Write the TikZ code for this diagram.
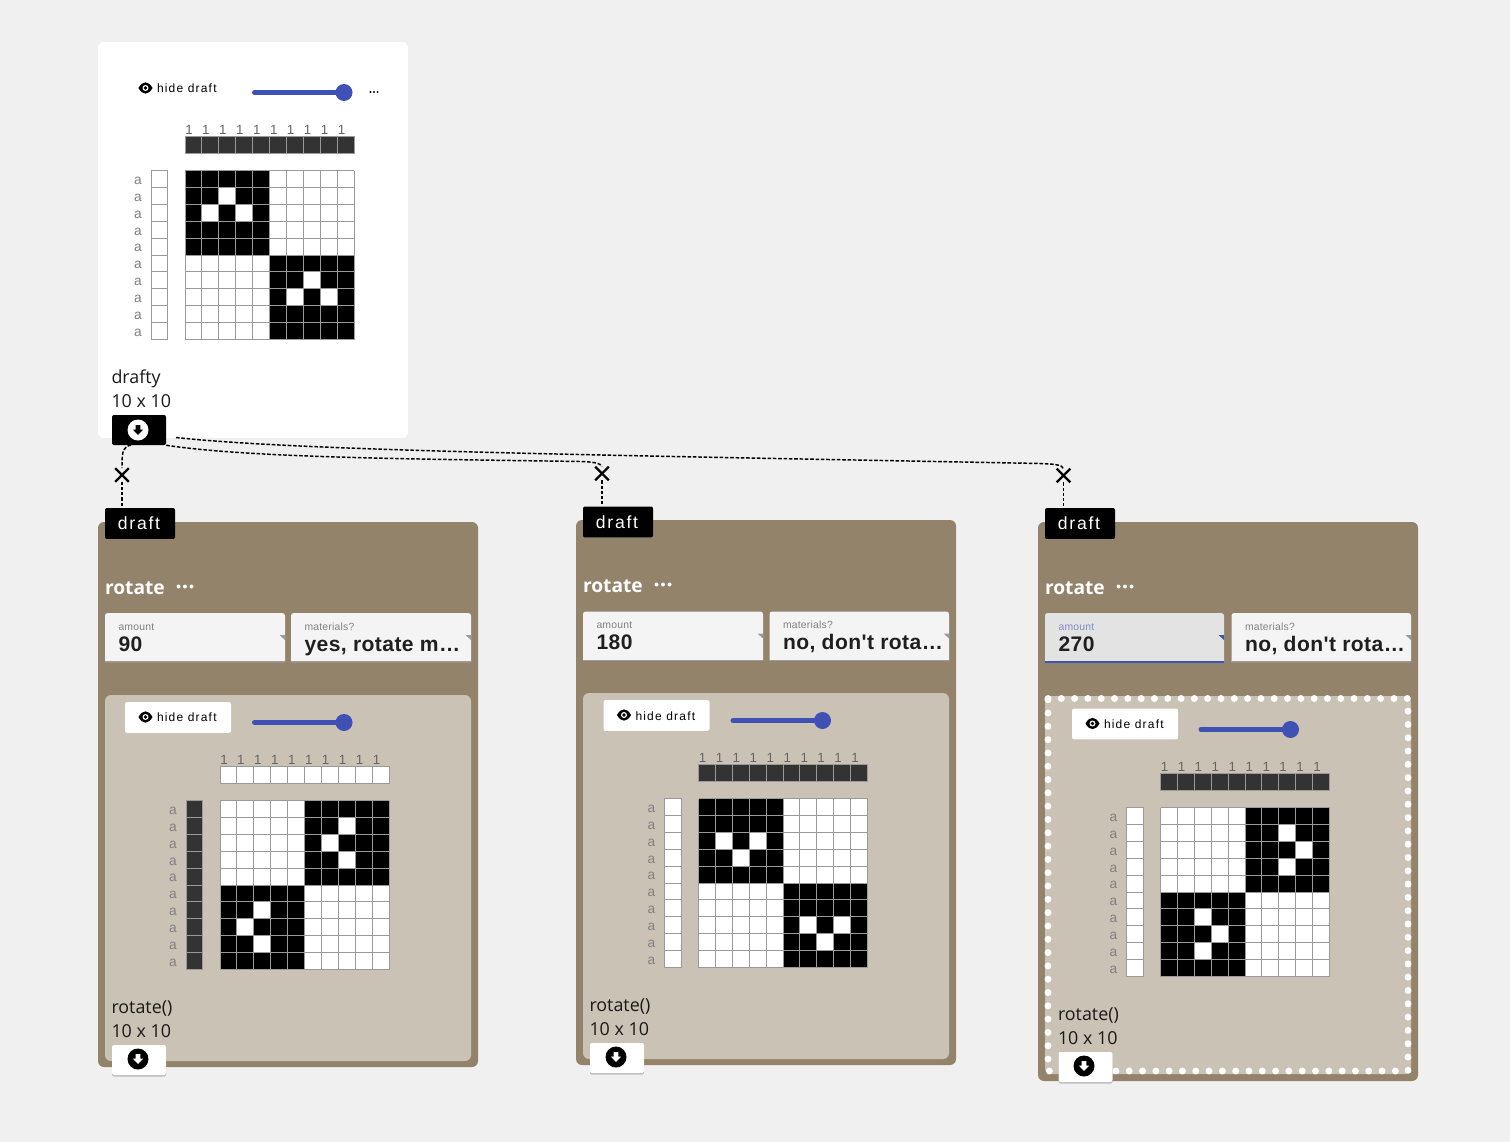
\documentclass[tikz,border=0pt]{standalone}
\usepackage{fontspec}
\setmainfont{Open Sans}
\newfontfamily\uifont[LetterSpace=10]{Liberation Sans}
\newfontfamily\tagfont[LetterSpace=10]{Liberation Sans}
\newfontfamily\valfont[LetterSpace=2]{Liberation Sans}
\newfontfamily\smallfont[LetterSpace=2]{Liberation Sans}
\newfontfamily\digitfont{Liberation Sans}
\usetikzlibrary{shapes.misc}
\definecolor{pagebg}{HTML}{F0F0F0}
\definecolor{brownp}{HTML}{93836A}
\definecolor{lightp}{HTML}{CAC2B4}
\definecolor{blueui}{HTML}{3F51B5}
\definecolor{bluelbl}{HTML}{7F8CCB}
\definecolor{inputbg}{HTML}{F4F4F4}
\definecolor{inputfoc}{HTML}{E3E3E3}
\definecolor{barcell}{HTML}{333333}
\definecolor{gridline}{HTML}{9A9A9A}
\tikzset{
  lbl/.style={anchor=base west,inner sep=0pt,outer sep=0pt},
  captiontext/.style={lbl,font=\fontsize{13.4pt}{16pt}\selectfont,text=black!90},
  titletext/.style={lbl,font=\fontsize{14.4pt}{18pt}\selectfont\bfseries,text=white},
  hidetext/.style={lbl,font=\uifont\fontsize{9pt}{11pt}\selectfont,text=black},
  oneText/.style={anchor=base,inner sep=0pt,font=\digitfont\fontsize{10pt}{12pt}\selectfont,text=black!60},
  aText/.style={anchor=base,inner sep=0pt,font=\digitfont\fontsize{10.3pt}{12pt}\selectfont,text=black!50},
  smalllabel/.style={lbl,font=\smallfont\fontsize{7.8pt}{9pt}\selectfont},
  valuetext/.style={lbl,font=\valfont\bfseries\fontsize{15.8pt}{18pt}\selectfont,text=black!88},
  tagbox/.style={fill=black,text=white,rounded corners=1.5pt,minimum width=52.5pt,minimum height=23.2pt,inner sep=0pt,font=\tagfont\fontsize{13.2pt}{15pt}\selectfont},
  dlbtn/.style={rounded corners=1.5pt,minimum width=40.5pt,minimum height=22.5pt,inner sep=0pt},
  hidebtn/.style={fill=white,rounded corners=1.5pt,minimum width=79.5pt,minimum height=23pt,inner sep=0pt},
  xmark/.style={cross out,draw=black,line width=1.7pt,minimum size=8.5pt,inner sep=0pt},
  wire/.style={draw=black,line width=1.1pt,dash pattern=on 2.7pt off 1.3pt},
  wiredrop/.style={draw=black,line width=1.4pt,dash pattern=on 2.4pt off 1.5pt},
  gridrule/.style={draw=gridline,line width=0.75pt},
}
% eye icon
\newcommand\eyeicon[2]{%
  \fill[black] ({#1-7},#2) .. controls ({#1-3},{#2-7.5}) and ({#1+3},{#2-7.5}) .. ({#1+7},#2)
     .. controls ({#1+3},{#2+7.5}) and ({#1-3},{#2+7.5}) .. cycle;
  \fill[white] (#1,#2) circle[radius=3];
  \fill[black] (#1,#2) circle[radius=1.9];}
% slider
\newcommand\sliderui[3]{%
  \draw[blueui,line width=3.6pt,line cap=round] ({#1+2.4},#3) -- (#2,#3);
  \fill[blueui] (#2,#3) circle[radius=8.5];}
% three dots
\newcommand\threedots[5]{%
  \foreach \k in {-1,0,1} \fill[#4] ({#1+\k*#5},#2) circle[radius=#3];}
% download icon
\newcommand\dlicon[4]{%
  \fill[#3] (#1,#2) circle[radius=10.5];
  \fill[#4] ({#1-2.4},{#2-5}) -- ({#1+2.4},{#2-5}) -- ({#1+2.4},{#2-0.5}) -- ({#1+5.2},{#2-0.5})
     -- (#1,{#2+5}) -- ({#1-5.2},{#2-0.5}) -- ({#1-2.4},{#2-0.5}) -- cycle;}
% soft shadow under a button
\newcommand\btnshadow[4]{%
  \fill[black,opacity=.22,rounded corners=1.5pt] (#1,{#2+1}) rectangle (#3,{#4+1.6});}
% weave draft
% #1 gx, #2 gy, #3 bar colour, #4 column colour, #5 first block col, #6 second block col, #7 holes, #8 prefix
\newcommand\weavegrid[8]{%
  \foreach \ii in {0,...,9} {
    \filldraw[gridrule,fill=#3] ({#1+\ii*16.9},{#2-34.5}) rectangle ({#1+(\ii+1)*16.9},{#2-17.6});
    \filldraw[gridrule,fill=#4] ({#1-34},{#2-0.5+\ii*16.9}) rectangle ({#1-17.1},{#2-0.5+(\ii+1)*16.9});
    \node[oneText] (#8one\ii) at ({#1+4+\ii*16.95},{#2-36.3}) {1};
    \node[aText] (#8a\ii) at ({#1-47},{#2+13.3+\ii*16.9}) {a};
  }
  \begin{scope}[yshift=0.375pt]
  \fill[white] (#1,#2) rectangle ({#1+169},{#2+169});
  \fill[black] ({#1+#5*16.9},#2) rectangle ({#1+(#5+5)*16.9},{#2+84.5});
  \fill[black] ({#1+#6*16.9},{#2+84.5}) rectangle ({#1+(#6+5)*16.9},{#2+169});
  \foreach \cc/\rr in {#7} \fill[white] ({#1+\cc*16.9},{#2+\rr*16.9}) rectangle ({#1+(\cc+1)*16.9},{#2+(\rr+1)*16.9});
  \foreach \ii in {0,...,10} {
    \draw[gridrule] ({#1+\ii*16.9},#2) -- ({#1+\ii*16.9},{#2+169});
    \draw[gridrule] (#1,{#2+\ii*16.9}) -- ({#1+169},{#2+\ii*16.9});
  }
  \end{scope}}
% select box: #1 prefix #2 x1 #3 y1 #4 x2 #5 label #6 value #7 fill #8 label colour #9 rule colour
\newcommand\selectbox[9]{%
  \fill[#7] (#2,{#3+49}) [rounded corners=2pt] -- (#2,#3) -- (#4,#3) [sharp corners] -- (#4,{#3+49}) -- cycle;
  \draw[#9,line width=0.75pt] (#2,{#3+48.5}) -- (#4,{#3+48.5});
  \fill[#9] ({#4-5.5},{#3+22}) -- (#4,{#3+22}) -- (#4,{#3+27}) -- cycle;
  \node[smalllabel,text=#8] (#1lab) at ({#2+13.5},{#3+17}) {#5};
  \node[valuetext] (#1val) at ({#2+13.5},{#3+38}) {#6};}
\begin{document}
\begin{tikzpicture}[x=0.75pt,y=-0.75pt]
\useasboundingbox (0,0) rectangle (1510,1142);
\fill[pagebg] (0,0) rectangle (1510,1142);

% ---------- top card
\fill[white,rounded corners=4.5pt] (98,42) rectangle (408,438);
\eyeicon{145.5}{88}
\node[hidetext] (hide0) at (157,92) {hide draft};
\sliderui{252}{344}{92.5}
\threedots{374}{92}{1.1}{black}{3.6}
\weavegrid{185}{171}{barcell}{white}{0}{5}{2/1,1/2,3/2,7/6,6/7,8/7}{t}
\node[captiontext] (name0) at (111.5,383) {drafty};
\node[captiontext] (size0) at (111.5,407) {10 x 10};

% ---------- panel 90
\fill[brownp,rounded corners=4.5pt] (98,522) rectangle (478,1067);
\fill[lightp,rounded corners=4.5pt] (105,695) rectangle (471,1061);
\node[titletext] (title1) at (105,594) {rotate};
\threedots{185}{586.5}{2}{white}{6.5}
\selectbox{a}{105}{613}{285}{amount}{90}{inputbg}{black!50}{gridline}
\selectbox{b}{291}{613}{471}{materials?}{yes, rotate m…}{inputbg}{black!50}{gridline}
\node[hidebtn] (hb1) at (178,717.5) {};
\eyeicon{145.5}{717}
\node[hidetext] (hide1) at (157,721) {hide draft};
\sliderui{252}{344}{722.5}
\weavegrid{220}{801}{white}{barcell}{5}{0}{7/1,6/2,7/3,2/6,1/7,2/8}{p}
\node[captiontext] (name1) at (111.5,1013) {rotate()};
\node[captiontext] (size1) at (111.5,1037) {10 x 10};
\btnshadow{112}{1045}{166}{1075}
\node[dlbtn,fill=white] (dl1) at (139,1060) {};
\dlicon{138}{1059}{black}{white}

% ---------- panel 180
\fill[brownp,rounded corners=4.5pt] (576,520) rectangle (956,1065);
\fill[lightp,rounded corners=4.5pt] (583,693) rectangle (949,1059);
\node[titletext] (title2) at (583,592) {rotate};
\threedots{663}{584.5}{2}{white}{6.5}
\selectbox{c}{583}{611.5}{763}{amount}{180}{inputbg}{black!50}{gridline}
\selectbox{d}{769.5}{611.5}{949}{materials?}{no, don't rota…}{inputbg}{black!50}{gridline}
\node[hidebtn] (hb2) at (656.5,715.5) {};
\eyeicon{624}{715}
\node[hidetext] (hide2) at (635.5,720) {hide draft};
\sliderui{730.5}{822.5}{720.5}
\weavegrid{698.5}{799}{barcell}{white}{0}{5}{1/2,3/2,2/3,6/7,8/7,7/8}{q}
\node[captiontext] (name2) at (589.5,1011) {rotate()};
\node[captiontext] (size2) at (589.5,1035) {10 x 10};
\btnshadow{590}{1043}{644}{1073}
\node[dlbtn,fill=white] (dl2) at (617,1058) {};
\dlicon{616}{1057}{black}{white}

% ---------- panel 270
\fill[brownp,rounded corners=4.5pt] (1038,522) rectangle (1418,1081);
\fill[lightp,rounded corners=4.5pt] (1045,696) rectangle (1411,1074);
\draw[white,line width=5.2pt,line cap=round,dash pattern=on 0pt off 9.98pt] (1048,698.5) -- (1408,698.5) -- (1408,1071) -- (1048,1071) -- cycle;
\node[titletext] (title3) at (1045,594) {rotate};
\threedots{1125}{586.5}{2}{white}{6.5}
\selectbox{e}{1045}{613}{1224}{amount}{270}{inputfoc}{bluelbl}{blueui}
\draw[blueui,line width=1.5pt] (1045,661.5) -- (1224,661.5);
\selectbox{f}{1231.5}{613}{1411}{materials?}{no, don't rota…}{inputbg}{black!50}{gridline}
\node[hidebtn] (hb3) at (1125,724) {};
\eyeicon{1092.5}{723.5}
\node[hidetext] (hide3) at (1104,728) {hide draft};
\sliderui{1198.5}{1290.5}{729.5}
\weavegrid{1160.5}{808}{barcell}{white}{5}{0}{7/1,8/2,7/3,2/6,3/7,2/8}{r}
\node[captiontext] (name3) at (1058,1020) {rotate()};
\node[captiontext] (size3) at (1058,1044) {10 x 10};
\btnshadow{1058.5}{1052}{1112.5}{1082}
\node[dlbtn,fill=white] (dl3) at (1085.5,1067) {};
\dlicon{1084}{1066}{black}{white}

% ---------- source button
\node[dlbtn,fill=black] (dl0) at (139,430) {};
\dlicon{138}{430}{white}{black}

% ---------- draft tags and crosses
\node[tagbox] (tagA) at (140,523.5) {\hspace*{-1.5pt}draft};
\node[tagbox] (tagB) at (618,522) {\hspace*{-1.5pt}draft};
\node[tagbox] (tagC) at (1080,523.5) {\hspace*{-1.5pt}draft};
\node[xmark] (xa) at (122,475) {};
\node[xmark] (xb) at (602,473.5) {};
\node[xmark] (xc) at (1063.5,475.5) {};

% ---------- connectors
\draw[wiredrop] (xa.south) -- (xa |- tagA.north);
\draw[wiredrop] (xb.south) -- (xb |- tagB.north);
\draw[wiredrop] (xc.south) -- (xc |- tagC.north);
\coordinate (sa) at (131,445);
\coordinate (sb) at (dl0.south east);
\coordinate (sc) at (176,437.5);
\path[wire] (sa) .. controls (123,447) and (122,450) .. (xa.north);
\path[wire] (sb) .. controls (250,458) and (420,459) .. (580,461.5) .. controls (592,461.7) and (601,463) .. (xb.north);
\path[wire] (sc) .. controls (300,451) and (600,455) .. (1040,463.5) .. controls (1052,464) and (1063,464.5) .. (xc.north);
\end{tikzpicture}
\end{document}
